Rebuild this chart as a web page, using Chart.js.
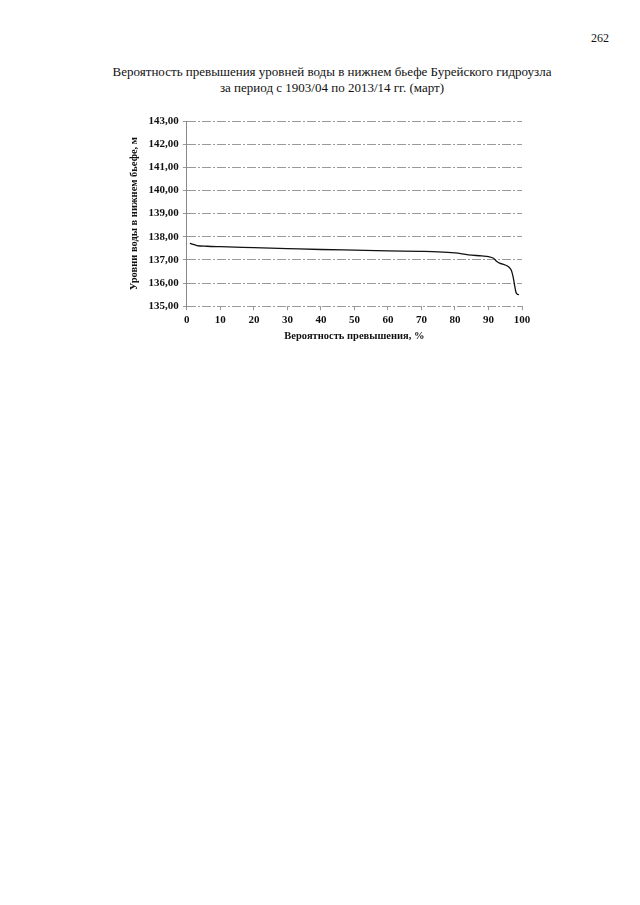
<!DOCTYPE html>
<html>
<head>
<meta charset="utf-8">
<script src="https://cdn.jsdelivr.net/npm/chart.js@4"></script>
<style>
  body { margin: 0; background: #fff; width: 640px; height: 905px; position: relative; overflow: hidden; }
  #page { position: absolute; left: 591px; top: 31px; font: 12px "Liberation Serif", serif; color: #111; }
  #title { position: absolute; left: 32px; top: 64px; width: 600px; text-align: center; font: 13px/16px "Liberation Serif", serif; color: #111; }
  #wrap { position: absolute; left: 60px; top: 50px; width: 540px; height: 310px; }
</style>
</head>
<body>
<div id="page">262</div>
<div id="title"></div>
<div id="wrap"><canvas id="chart"></canvas></div>
<script>
// exceedance probability, %
const probability = [0.9, 3, 6, 10, 20, 30, 40, 50, 60, 70, 75, 80, 84, 88, 90, 91.5, 92.5, 93.5, 95, 96, 96.8, 97.3, 97.8, 98.2, 98.6, 99.1];
// water level in the tailwater, m
const levels = [137.71, 137.62, 137.59, 137.57, 137.53, 137.49, 137.45, 137.42, 137.39, 137.37, 137.35, 137.30, 137.22, 137.17, 137.14, 137.07, 136.93, 136.85, 136.78, 136.70, 136.55, 136.30, 135.90, 135.60, 135.52, 135.50];
const titleLines = [
  "Вероятность превышения уровней воды в нижнем бьефе Бурейского гидроузла",
  "за период с 1903/04 по 2013/14 гг. (март)",
];

document.getElementById("title").innerHTML = titleLines.join("<br>");

const serif = "'Liberation Serif', 'Times New Roman', serif";
const points = probability.map((p, i) => ({ x: p, y: levels[i] }));

const ctx = document.getElementById("chart");

new Chart(ctx, {
  type: "line",
  data: {
    datasets: [
      {
        data: points,
        borderColor: "#111",
        borderWidth: 1.3,
        pointRadius: 0,
        cubicInterpolationMode: "monotone",
      },
    ],
  },
  options: {
    responsive: true,
    maintainAspectRatio: false,
    animation: false,
    layout: { padding: { left: 64, right: 78, top: 71, bottom: 13 } },
    plugins: {
      legend: { display: false },
      tooltip: { enabled: false },
    },
    scales: {
      x: {
        type: "linear",
        min: 0,
        max: 100,
        ticks: { stepSize: 10, color: "#111", font: { family: serif, size: 11, weight: "bold" }, maxRotation: 0, padding: 3 },
        grid: { drawOnChartArea: false, drawTicks: true, tickLength: 4, color: "#999" },
        border: { display: false },
        title: { display: true, text: "Вероятность превышения, %", color: "#111", font: { family: serif, size: 10.5, weight: "bold" }, padding: { top: 1 } },
      },
      y: {
        min: 135,
        max: 143,
        ticks: {
          stepSize: 1,
          color: "#111",
          font: { family: serif, size: 11, weight: "bold" },
          padding: 4,
          callback: (v) => v.toFixed(2).replace(".", ","),
        },
        grid: { color: "#9a9a9a", lineWidth: 1, tickLength: 4 },
        border: { display: true, color: "#888", dash: [9, 2, 2, 2] },
        title: { display: true, text: "Уровни воды в нижнем бьефе, м", color: "#111", font: { family: serif, size: 10.5, weight: "bold" }, padding: { bottom: 4 } },
      },
    },
  },
});
</script>
</body>
</html>
